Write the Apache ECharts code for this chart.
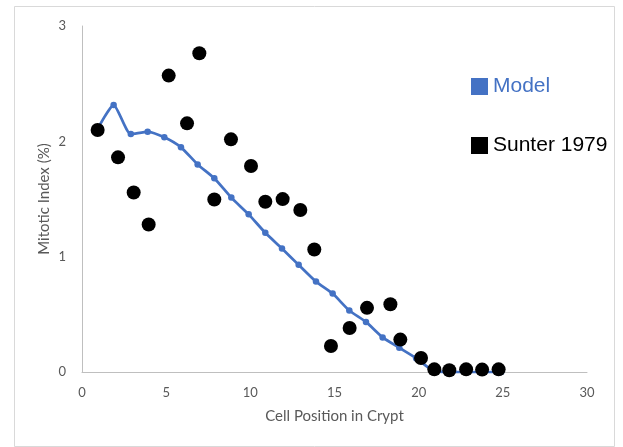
<!DOCTYPE html>
<html>
<head>
<meta charset="utf-8">
<script src="https://cdn.jsdelivr.net/npm/echarts@6/dist/echarts.min.js"></script>
<style>
  html, body { margin: 0; padding: 0; background: #ffffff; }
  #chart { width: 623px; height: 447px; }
</style>
</head>
<body>
<div id="chart"></div>
<script>
// Model: mitotic index along the crypt axis
const modelX = [0.9, 1.88, 2.9, 3.9, 4.89, 5.88, 6.87, 7.86, 8.87, 9.9, 10.89, 11.88, 12.87,
                13.9, 14.89, 15.88, 16.87, 17.86, 18.85, 19.85, 20.88, 21.88, 22.88, 23.88, 24.9];
const modelY = [2.10, 2.315, 2.063, 2.083, 2.035, 1.948, 1.80, 1.68, 1.512, 1.367, 1.207, 1.071, 0.929,
                0.784, 0.68, 0.533, 0.434, 0.30, 0.21, 0.12, 0.01, 0, 0, 0, 0];

// Sunter 1979 measurements
const sunterX = [0.93, 2.14, 3.07, 3.96, 5.15, 6.24, 6.97, 7.86, 8.85, 10.04, 10.89, 11.92, 12.97,
                 13.8, 14.79, 15.9, 16.93, 18.32, 18.91, 20.14, 20.93, 21.82, 22.82, 23.77, 24.75];
const sunterY = [2.098, 1.861, 1.557, 1.279, 2.57, 2.156, 2.764, 1.496, 2.017, 1.786, 1.476, 1.499, 1.404,
                 1.062, 0.226, 0.382, 0.556, 0.588, 0.281, 0.122, 0.023, 0.015, 0.023, 0.021, 0.023];

const xTicks = [0, 5, 10, 15, 20, 25, 30];
const yTicks = [0, 1, 2, 3];

const seriesNames = ['Model', 'Sunter 1979'];
const blue = '#4472C4';
const axisGray = '#595959';
const lineGray = '#BFBFBF';

const zip = (xs, ys) => xs.map((x, i) => [x, ys[i]]);

const chart = echarts.init(document.getElementById('chart'), null, { renderer: 'canvas' });

chart.setOption({
  animation: false,
  backgroundColor: '#ffffff',
  graphic: [{
    type: 'rect',
    shape: { x: 14.5, y: 6.5, width: 600, height: 440 },
    style: { fill: 'none', stroke: '#D9D9D9', lineWidth: 1 },
    silent: true,
    z: -1
  }],
  grid: { left: 82, right: 36, top: 26, bottom: 75, containLabel: false },
  legend: {
    orient: 'vertical',
    left: 466,
    top: 71,
    itemWidth: 17,
    itemHeight: 17,
    itemGap: 38,
    textStyle: { fontFamily: 'Liberation Sans', fontSize: 21, lineHeight: 17 },
    data: [
      { name: seriesNames[0], icon: 'rect', textStyle: { color: blue } },
      { name: seriesNames[1], icon: 'rect', textStyle: { color: '#000000' } }
    ]
  },
  xAxis: {
    type: 'value',
    min: xTicks[0],
    max: xTicks[xTicks.length - 1],
    interval: 5,
    name: 'Cell Position in Crypt',
    nameLocation: 'middle',
    nameGap: 37,
    nameMoveOverlap: false,
    nameTextStyle: { color: axisGray, fontFamily: 'Lato', fontSize: 15 },
    axisLine: { show: true, lineStyle: { color: lineGray, width: 1 } },
    axisTick: { show: false },
    splitLine: { show: false },
    axisLabel: { color: axisGray, fontFamily: 'Lato', fontSize: 13, margin: 14 }
  },
  yAxis: {
    type: 'value',
    min: yTicks[0],
    max: yTicks[yTicks.length - 1],
    interval: 1,
    name: 'Mitotic Index (%)',
    nameLocation: 'middle',
    nameGap: 30,
    nameRotate: 90,
    nameMoveOverlap: false,
    nameTextStyle: { color: axisGray, fontFamily: 'Lato', fontSize: 15 },
    axisLine: { show: true, lineStyle: { color: lineGray, width: 1 } },
    axisTick: { show: false },
    splitLine: { show: false },
    axisLabel: { color: axisGray, fontFamily: 'Lato', fontSize: 13, margin: 16 }
  },
  series: [
    {
      name: seriesNames[0],
      type: 'line',
      data: zip(modelX, modelY),
      smooth: 0.2,
      symbol: 'circle',
      symbolSize: 6.5,
      itemStyle: { color: blue },
      lineStyle: { color: blue, width: 2.75 },
      z: 2
    },
    {
      name: seriesNames[1],
      type: 'scatter',
      data: zip(sunterX, sunterY),
      symbol: 'circle',
      symbolSize: 14,
      itemStyle: { color: '#000000', opacity: 1 },
      z: 3
    }
  ]
});
</script>
</body>
</html>
